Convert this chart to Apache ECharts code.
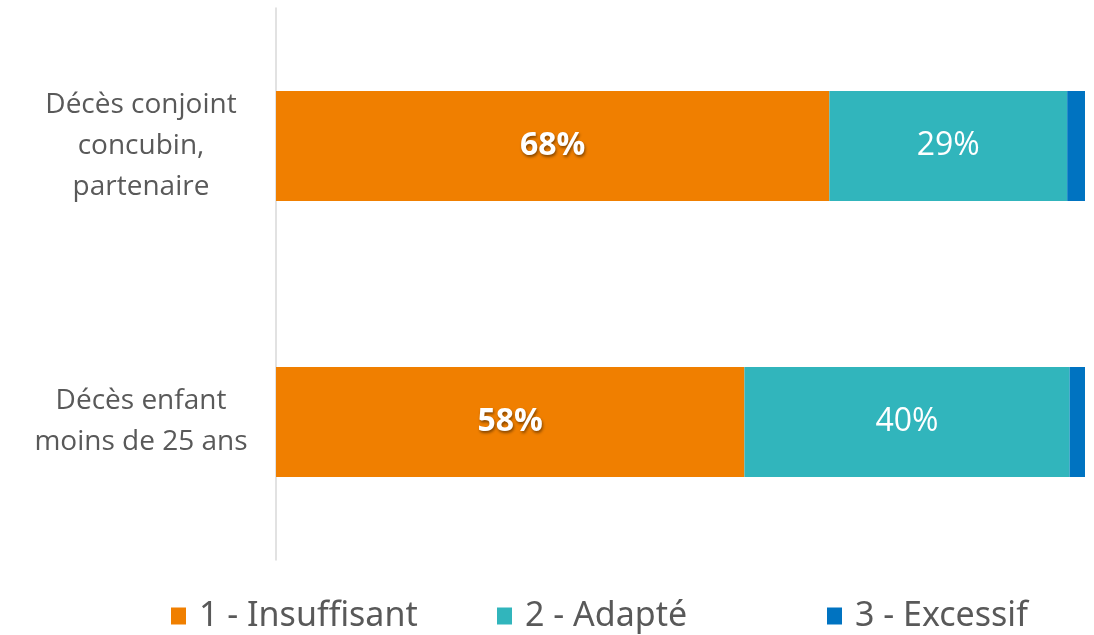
<!DOCTYPE html>
<html><head><meta charset="utf-8">
<script src="https://cdn.jsdelivr.net/npm/echarts@6/dist/echarts.min.js"></script>
<style>html,body{margin:0;padding:0;background:#fff}#c{width:1094px;height:635px}</style>
</head><body><div id="c"></div>
<script>
const categories = ['Décès enfant\nmoins de 25 ans', 'Décès conjoint\nconcubin,\npartenaire'];
const seriesNames = ['1 - Insuffisant', '2 - Adapté', '3 - Excessif'];
const insuffisant = [57.9, 68.4];
const adapte = [40.2, 29.4];
const excessif = [1.9, 2.2];
const colors = ['#F07F00', '#31B5BC', '#0073C1'];

const font = 'Open Sans, Noto Sans, sans-serif';
const chart = echarts.init(document.getElementById('c'));
const labelBase = {
  show: true, position: 'inside', color: '#fff', fontFamily: font, fontSize: 32,
  formatter: p => Math.round(p.value) + '%'
};
const legendCommon = {
  bottom: -3, itemWidth: 15, itemHeight: 17, icon: 'rect', itemGap: 6,
  textStyle: {fontFamily: 'Noto Sans, sans-serif', fontSize: 34, color: '#595959', padding: [0,0,0,8]}
};
chart.setOption({
  animation: false,
  color: colors,
  grid: {left: 276, right: 9, top: 8, bottom: 75},
  legend: [
    Object.assign({left: 166, data: [seriesNames[0]]}, legendCommon),
    Object.assign({left: 492, data: [seriesNames[1]]}, legendCommon),
    Object.assign({left: 822, data: [seriesNames[2]]}, legendCommon)
  ],
  xAxis: {type: 'value', min: 0, max: 100, show: false},
  yAxis: {
    type: 'category', data: categories,
    axisLine: {show: true, lineStyle: {color: '#D9D9D9', width: 1.5}},
    axisTick: {show: false},
    axisLabel: {margin: 135, align: 'center', fontFamily: font, fontSize: 28, lineHeight: 41, color: '#595959'}
  },
  series: [
    {name: seriesNames[0], type: 'bar', stack: 's', barWidth: 110, data: insuffisant,
     label: Object.assign({}, labelBase, {fontWeight: 'bold', textShadowColor: 'rgba(0,0,0,0.45)', textShadowBlur: 3, textShadowOffsetX: 1, textShadowOffsetY: 1.5})},
    {name: seriesNames[1], type: 'bar', stack: 's', data: adapte, label: labelBase},
    {name: seriesNames[2], type: 'bar', stack: 's', data: excessif, label: {show: false}}
  ]
});
</script></body></html>
